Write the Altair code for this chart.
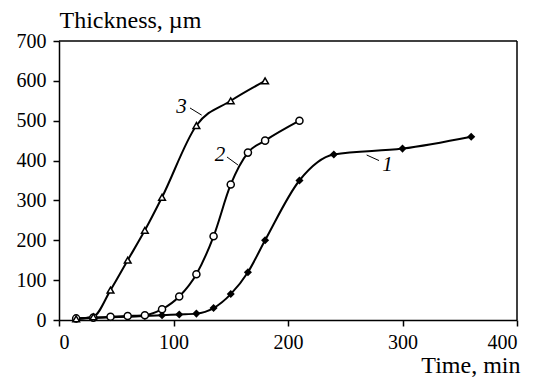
import altair as alt
import pandas as pd

times1 = [15, 30, 45, 60, 75, 90, 105, 120, 135, 150, 165, 180, 210, 240, 300, 360]
thick1 = [3, 5, 7, 8, 10, 12, 14, 16, 30, 65, 120, 200, 350, 415, 430, 460]
times2 = [15, 30, 45, 60, 75, 90, 105, 120, 135, 150, 165, 180, 210]
thick2 = [4, 6, 8, 10, 12, 27, 59, 115, 210, 340, 420, 450, 500]
times3 = [15, 30, 45, 60, 75, 90, 120, 150, 180]
thick3 = [3, 8, 75, 150, 225, 308, 488, 550, 600]

x_ticks = [0, 100, 200, 300, 400]
y_ticks = [0, 100, 200, 300, 400, 500, 600, 700]

label_text = ["1", "2", "3"]
label_x = [287, 140.6, 107]
label_y = [389, 414, 534]
leader_x1 = [268.7, 146.7, 114.4]
leader_y1 = [414, 409, 532]
leader_x2 = [279.5, 156.3, 124.6]
leader_y2 = [400, 389, 514]

FONT = "Liberation Serif"

def df(t, v, s):
    return pd.DataFrame({"t": t, "v": v, "s": s})

d1 = df(times1, thick1, "1")
d2 = df(times2, thick2, "2")
d3 = df(times3, thick3, "3")

xs = alt.Scale(domain=[0, 400], nice=False)
ys = alt.Scale(domain=[0, 700], nice=False)

xaxis = alt.Axis(values=x_ticks, title="Time, min", grid=False,
                 tickSize=6, labelPadding=6, titleAlign="right", titleAnchor="end",
                 titleX=461, titleY=52, titleBaseline="alphabetic", labelOverlap=False)
yaxis = alt.Axis(values=y_ticks, title="Thickness, µm",
                 grid=False, tickSize=6, labelPadding=7, titleAngle=0, titleAlign="left",
                 titleX=0, titleY=-14, titleBaseline="alphabetic", labelOverlap=False)

def X(f):
    return alt.X(f, type="quantitative", scale=xs, axis=xaxis)

def Y(f):
    return alt.Y(f, type="quantitative", scale=ys, axis=yaxis)

def line(d):
    return alt.Chart(d).mark_line(color="black", strokeWidth=2, interpolate="monotone").encode(
        x=X("t"), y=Y("v"))

pts1 = alt.Chart(d1).mark_point(shape="diamond", filled=True, color="black", size=65, opacity=1).encode(
    x=X("t"), y=Y("v"))
pts2 = alt.Chart(d2).mark_point(shape="circle", filled=False, color="black", size=50, strokeWidth=1.5, fill="white", opacity=1).encode(
    x=X("t"), y=Y("v"))
pts3 = alt.Chart(d3).mark_point(shape="triangle-up", filled=False, color="black", size=45, strokeWidth=1.5, fill="white", opacity=1).encode(
    x=X("t"), y=Y("v"))

lab = pd.DataFrame({"txt": label_text, "x": label_x, "y": label_y,
                    "x1": leader_x1, "y1": leader_y1, "x2": leader_x2, "y2": leader_y2})
texts = alt.Chart(lab).mark_text(font=FONT, fontSize=21, fontStyle="italic", color="black").encode(
    x=X("x"), y=Y("y"), text="txt:N")
leaders = alt.Chart(lab).mark_rule(color="black", strokeWidth=1).encode(
    x=X("x1"), y=Y("y1"), x2="x2:Q", y2="y2:Q")

frame = pd.DataFrame({"xa": [x_ticks[0], x_ticks[-1]], "xb": [x_ticks[-1], x_ticks[-1]],
                      "ya": [y_ticks[-1], y_ticks[0]], "yb": [y_ticks[-1], y_ticks[-1]]})
frame_rules = alt.Chart(frame).mark_rule(color="black", strokeWidth=1.5).encode(
    x=X("xa"), x2="xb:Q", y=Y("ya"), y2="yb:Q")

chart = alt.layer(frame_rules, line(d1), line(d2), line(d3), pts1, pts2, pts3, leaders, texts).properties(
    width=458, height=279, autosize=alt.AutoSizeParams(type="none"),
    padding={"left": 51, "top": 33, "right": 10, "bottom": 59},
    background="white"
).configure_view(stroke=None).configure_axis(
    domainColor="black", domainWidth=1.5, tickColor="black", tickWidth=1.5,
    labelFont=FONT, labelFontSize=20, labelColor="black",
    titleFont=FONT, titleFontSize=24, titleColor="black", titleFontWeight="normal"
)

chart.save("out.html", embed_options={"renderer": "svg", "actions": False})
